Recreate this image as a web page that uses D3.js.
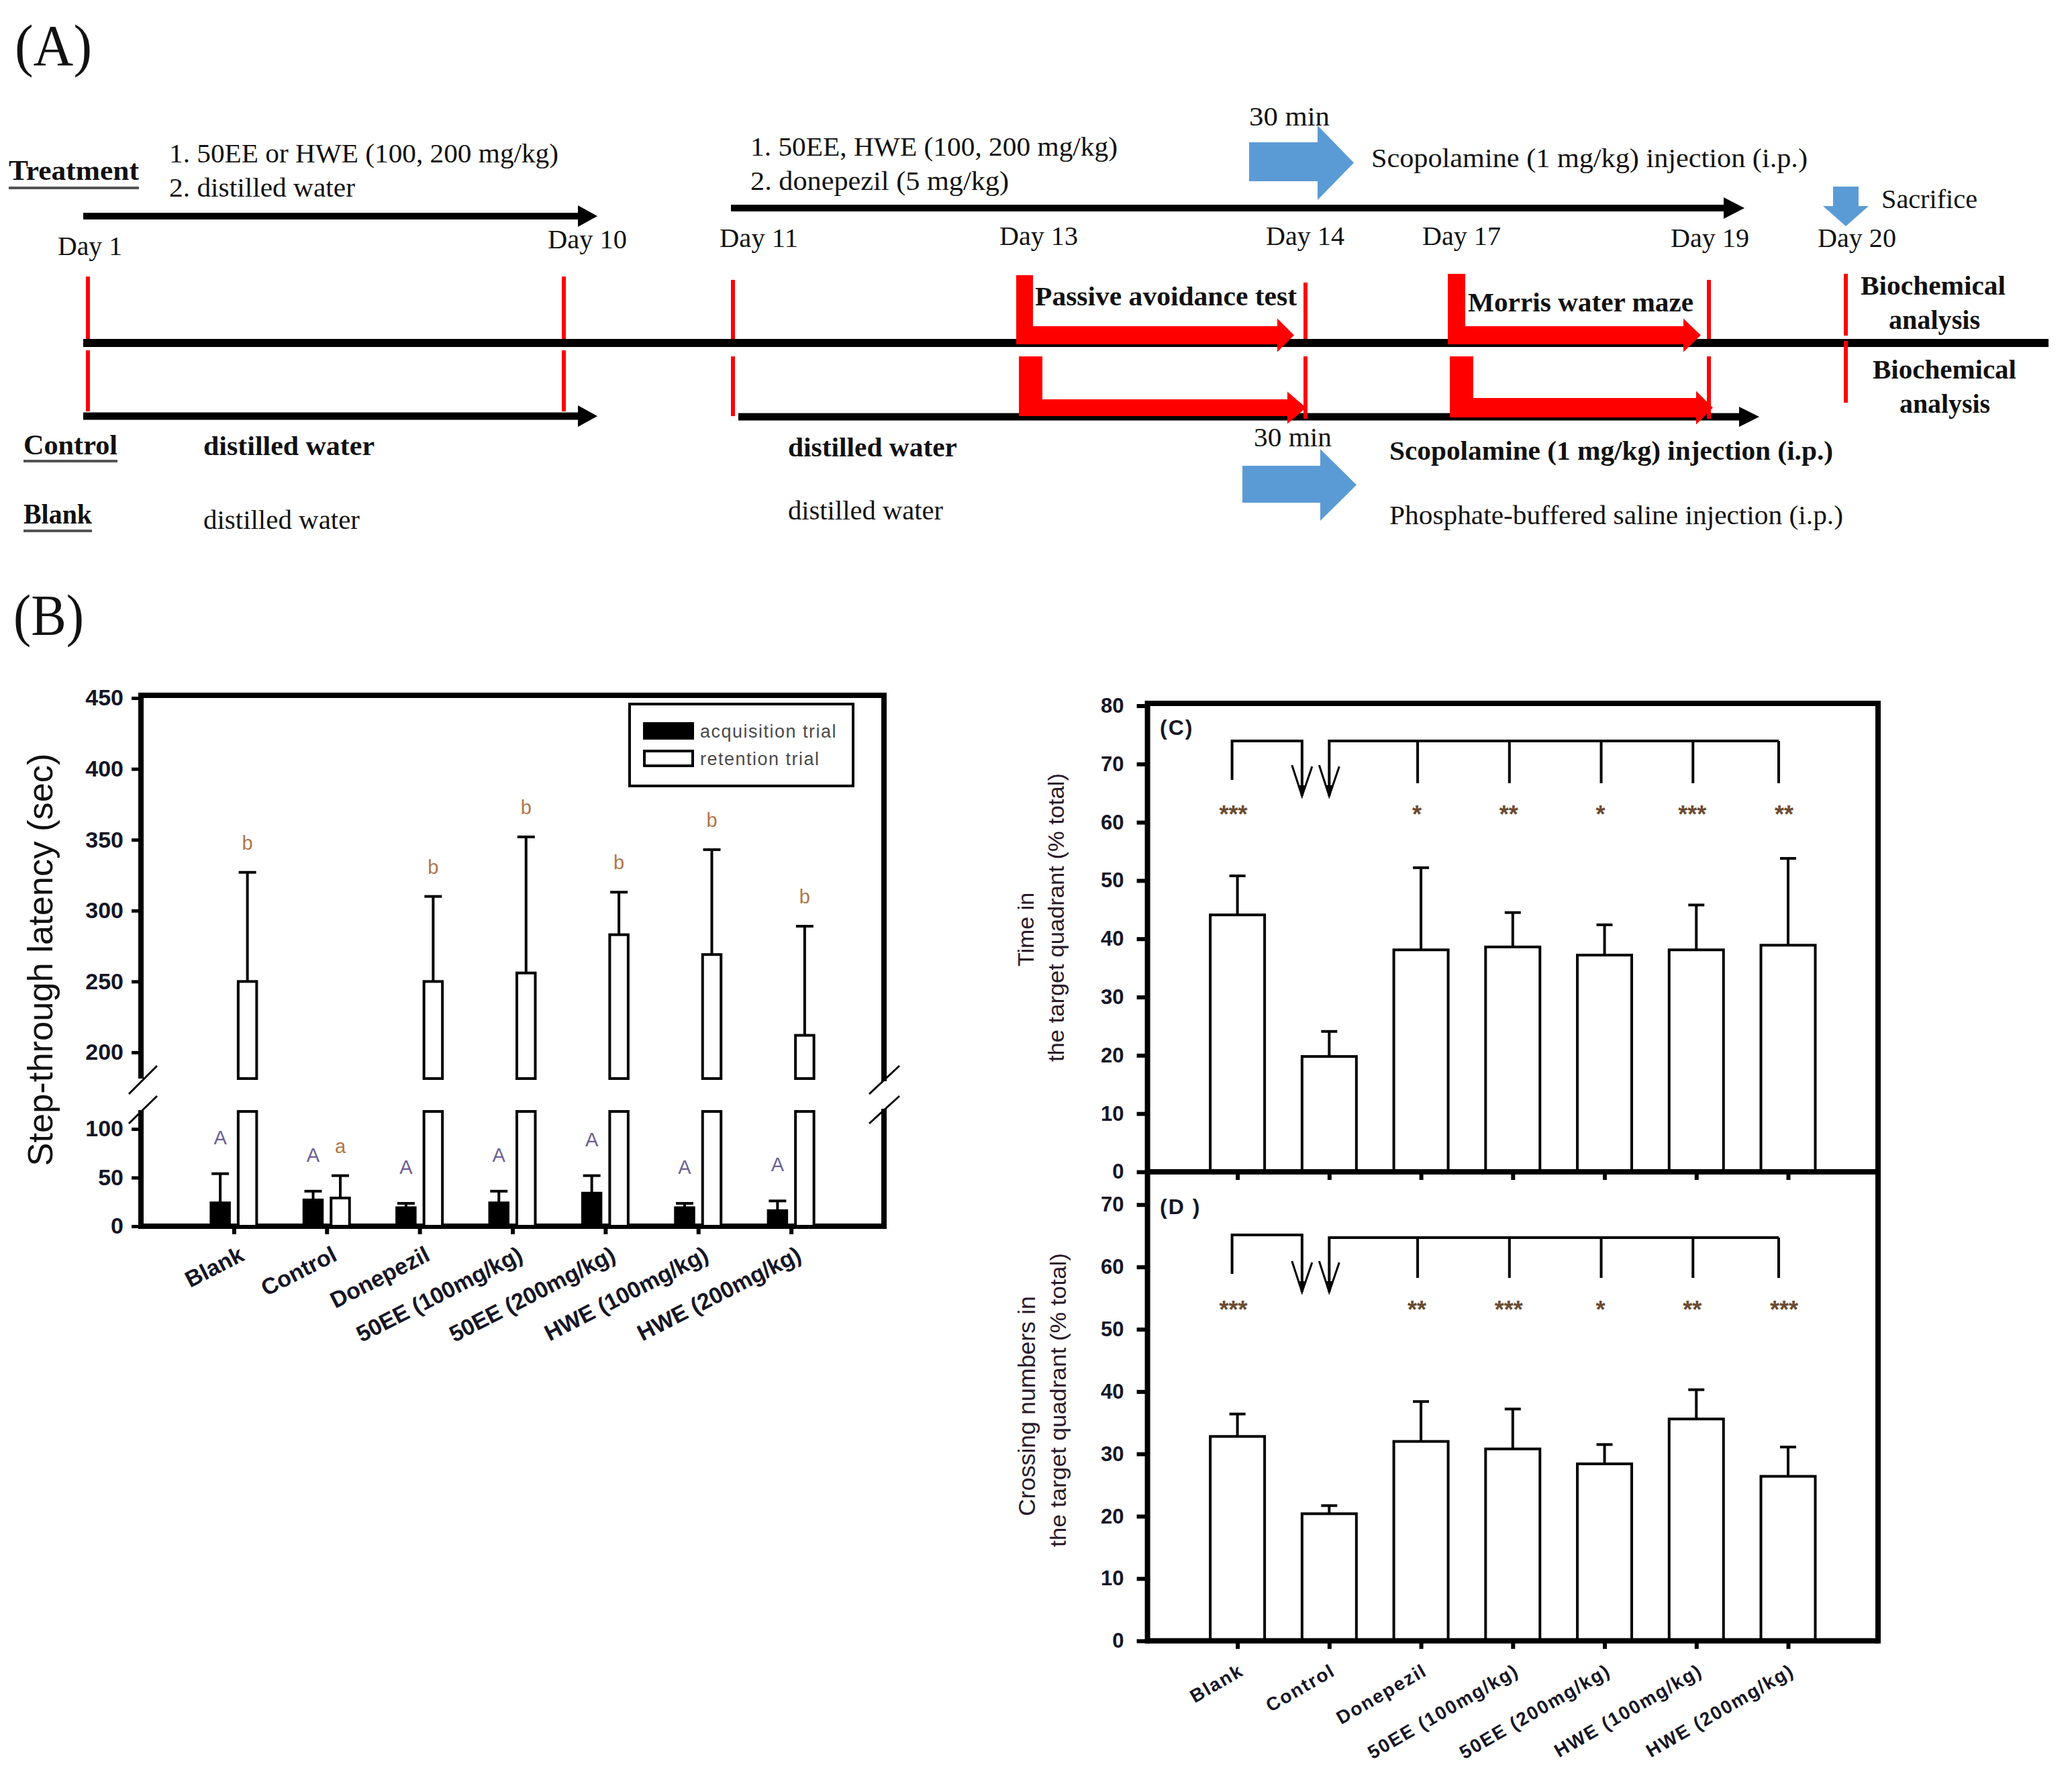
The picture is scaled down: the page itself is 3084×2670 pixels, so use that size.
<!DOCTYPE html>
<html><head><meta charset="utf-8">
<script src="https://cdn.jsdelivr.net/npm/d3@7"></script>
<style>html,body{margin:0;padding:0;background:#fff}</style>
</head><body>
<svg id="fig" width="3084" height="2670" xmlns="http://www.w3.org/2000/svg"></svg>
<script>
// ---------------- DATA ----------------
const groups = ["Blank","Control","Donepezil","50EE (100mg/kg)","50EE (200mg/kg)","HWE (100mg/kg)","HWE (200mg/kg)"];
// Panel B : step-through latency (sec)
const acqMean = [24, 27, 19, 24, 34, 19, 16];
const acqSem  = [30,  9, 4.5, 12, 18, 4.5, 10];
const retMean = [250, 29, 250, 256, 283, 269, 212];
const retSem  = [77,  23,  60,  96,  30,  74,  77];
const acqLetters = ["A","A","A","A","A","A","A"];
const retLetters = ["b","a","b","b","b","b","b"];
const seriesB = ["acquisition trial","retention trial"];
const ticksBUpper = [200,250,300,350,400,450];
const ticksBLower = [0,50,100];
// Panel C : time in target quadrant (% total)
const timeMean = [44.1, 19.8, 38.1, 38.6, 37.2, 38.1, 38.9];
const timeSem  = [6.7, 4.3, 14.1, 5.9, 5.2, 7.7, 14.9];
const starsC   = ["***","","*","**","*","***","**"];
const ticksC   = [0,10,20,30,40,50,60,70,80];
// Panel D : crossing numbers in target quadrant (% total)
const crossMean = [32.8, 20.4, 32.0, 30.8, 28.4, 35.6, 26.4];
const crossSem  = [3.6, 1.3, 6.4, 6.4, 3.1, 4.7, 4.7];
const starsD    = ["***","","**","***","*","**","***"];
const ticksD    = [0,10,20,30,40,50,60,70];

// ---------------- STYLE ----------------
const SERIF = "'Liberation Serif','Times New Roman',serif";
const SANS  = "'Liberation Sans',Arial,sans-serif";
const INK = "#161626";
const RED = "#ff0000";
const BLUE = "#5b9bd5";

const svg = d3.select("#fig");
svg.append("rect").attr("width",3084).attr("height",2670).attr("fill","#fff");

function T(g, s, x, y, o = {}) {
  const t = g.append("text").attr("x", x).attr("y", y).text(s)
    .attr("font-family", o.family || SERIF)
    .attr("font-size", o.size || 41)
    .attr("font-weight", o.bold ? "bold" : "normal")
    .attr("fill", o.fill || "#111");
  if (o.w) t.attr("textLength", o.w).attr("lengthAdjust", "spacingAndGlyphs");
  if (o.anchor) t.attr("text-anchor", o.anchor);
  if (o.ls) t.attr("letter-spacing", o.ls);
  if (o.transform) t.attr("transform", o.transform);
  return t;
}

// =============== PANEL A (schematic) ===============
const gA = svg.append("g");
T(gA, "(A)", 22, 97, {size: 86, w: 115});

function hArrow(x1, x2, y, th, hl, hh) {
  gA.append("rect").attr("x", x1).attr("y", y - th/2).attr("width", x2 - hl - x1 + 2).attr("height", th).attr("fill", "#000");
  gA.append("path").attr("d", `M${x2-hl},${y-hh}L${x2},${y}L${x2-hl},${y+hh}Z`).attr("fill", "#000");
}
function redV(x, y1, y2) {
  gA.append("line").attr("x1", x).attr("x2", x).attr("y1", y1).attr("y2", y2)
    .attr("stroke", RED).attr("stroke-width", 6);
}
function redL(vx1, vx2, vy1, hy1, hy2, hx2, tip, hh) {
  const cy = (hy1 + hy2) / 2;
  gA.append("path").attr("fill", RED)
    .attr("d", `M${vx1},${vy1}L${vx2},${vy1}L${vx2},${hy1}L${hx2},${hy1}L${hx2},${cy-hh}L${tip},${cy}L${hx2},${cy+hh}L${hx2},${hy2}L${vx1},${hy2}Z`);
}
function blueRight(rx1, rx2, ry1, ry2, hy1, hy2, tip) {
  const cy = (hy1 + hy2) / 2;
  gA.append("path").attr("fill", BLUE)
    .attr("d", `M${rx1},${ry1}L${rx2},${ry1}L${rx2},${hy1}L${tip},${cy}L${rx2},${hy2}L${rx2},${ry2}L${rx1},${ry2}Z`);
}
function underline(x1, x2, y) {
  gA.append("line").attr("x1", x1).attr("x2", x2).attr("y1", y).attr("y2", y)
    .attr("stroke", "#555").attr("stroke-width", 4);
}

// left texts
T(gA, "Treatment", 13, 268, {bold: true, w: 194, size: 42}); underline(13, 207, 280);
T(gA, "1. 50EE  or HWE  (100, 200 mg/kg)", 252, 242, {w: 580});
T(gA, "2. distilled water", 252, 293, {w: 277});
T(gA, "Day 1", 86, 380, {w: 96});
T(gA, "Day 10", 816, 370, {w: 118});
T(gA, "Control", 35, 677, {bold: true, w: 140, size: 42}); underline(35, 175, 687);
T(gA, "distilled  water", 303, 678, {bold: true, w: 255});
T(gA, "Blank", 35, 780, {bold: true, w: 102, size: 42}); underline(35, 137, 791);
T(gA, "distilled water", 303, 788, {w: 233});

// middle / right texts
T(gA, "1. 50EE, HWE  (100, 200 mg/kg)", 1118, 232, {w: 547});
T(gA, "2. donepezil  (5 mg/kg)", 1118, 283, {w: 385});
T(gA, "30 min", 1861, 187, {w: 120});
T(gA, "Scopolamine (1 mg/kg)  injection (i.p.)", 2043, 249, {w: 650});
T(gA, "Sacrifice", 2803, 310, {w: 143});
[["Day 11",1072,368],["Day 13",1489,365],["Day 14",1886,365],["Day 17",2119,365],["Day 19",2489,368],["Day 20",2708,368]]
  .forEach(d => T(gA, d[0], d[1], d[2], {w: 117}));
T(gA, "Passive avoidance test", 1542, 455, {bold: true, w: 390});
T(gA, "Morris water maze", 2187, 464, {bold: true, w: 336});
T(gA, "Biochemical", 2772, 439, {bold: true, w: 216});
T(gA, "analysis", 2814, 490, {bold: true, w: 136});
T(gA, "Biochemical", 2790, 564, {bold: true, w: 214});
T(gA, "analysis", 2830, 615, {bold: true, w: 135});
T(gA, "30 min", 1868, 665, {w: 116});
T(gA, "distilled  water", 1174, 680, {bold: true, w: 252});
T(gA, "distilled water", 1174, 774, {w: 231});
T(gA, "Scopolamine (1 mg/kg) injection (i.p.)", 2070, 685, {bold: true, w: 661});
T(gA, "Phosphate-buffered saline injection (i.p.)", 2070, 781, {w: 676});

// black lines and arrows
hArrow(124, 890, 322, 10, 29, 16);
hArrow(1089, 2599, 310, 10, 31, 16);
gA.append("rect").attr("x", 124).attr("y", 505).attr("width", 3052 - 124).attr("height", 12).attr("fill", "#000");
hArrow(124, 890, 620, 11, 29, 16);
hArrow(1100, 2621, 621, 11, 30, 15);

// red day markers
[[131,412,505,522,613],[840,412,505,522,613],[1092,417,505,531,620],[1945,421,505,531,624],[2546,417,505,531,624],[2750,408,500,508,600]]
  .forEach(d => { redV(d[0], d[1], d[2]); redV(d[0], d[3], d[4]); });

// red L-arrows (tests)
redL(1514, 1539, 410, 486, 513, 1903, 1928, 25);
redL(1518, 1553, 531, 595, 620, 1918, 1946, 24);
redL(2157, 2183, 408, 486, 513, 2508, 2534, 25);
redL(2160, 2195, 531, 593, 622, 2527, 2552, 25);

// blue arrows
blueRight(1861, 1963, 212, 270, 187, 298, 2017);
blueRight(1851, 1967, 694, 749, 669, 776, 2021);
gA.append("path").attr("fill", BLUE)
  .attr("d", "M2731,278L2769,278L2769,307L2784,307L2750,337L2716,307L2731,307Z");

// =============== PANEL B ===============
const gB = svg.append("g");
T(gB, "(B)", 20, 946, {size: 86, w: 105});

const BX0 = 210, BX1 = 1317;
const BREAK_LO = 118, BREAK_HI = 181.5;
const xB = d3.scalePoint().domain(groups).range([BX0, BX1]).padding(1);
const yLow = d3.scaleLinear().domain([0, BREAK_LO]).range([1827, 1656]);
const yHigh = d3.scaleLinear().domain([BREAK_HI, 450]).range([1607, 1040]);
const barW = 27.5, gap = 6.5;

function styleAxis(g, fs, tw, bold = true) {
  g.select(".domain").remove();
  g.selectAll(".tick line").attr("stroke", "#000").attr("stroke-width", tw);
  g.selectAll(".tick text").attr("font-family", SANS).attr("font-size", fs)
    .attr("font-weight", bold ? "bold" : "normal").attr("fill", INK);
}

// y axes (broken)
gB.append("g").attr("transform", `translate(${BX0},0)`)
  .call(d3.axisLeft(yHigh).tickValues(ticksBUpper).tickSize(14).tickPadding(12))
  .call(g => styleAxis(g, 34, 5));
gB.append("g").attr("transform", `translate(${BX0},0)`)
  .call(d3.axisLeft(yLow).tickValues(ticksBLower).tickSize(14).tickPadding(12))
  .call(g => styleAxis(g, 34, 5));

// x axis ticks + labels
gB.append("g").attr("transform", `translate(0,${yLow(0)})`)
  .call(d3.axisBottom(xB).tickSize(12).tickPadding(0))
  .call(g => {
    styleAxis(g, 34, 6);
    g.selectAll(".tick text").attr("x", 0).attr("y", 0).attr("dy", null)
      .attr("text-anchor", "end").attr("transform", "translate(17,50) rotate(-27)");
  });

// frame lines
const frameB = gB.append("g").attr("stroke", "#000").attr("stroke-width", 8).attr("fill", "none");
frameB.append("path").attr("d", `M${BX0},${yLow(0)}L${BX1},${yLow(0)}`);
frameB.append("path").attr("d", `M${BX0},${yLow(BREAK_LO)-2}L${BX0},${yLow(0)+4}`);
frameB.append("path").attr("d", `M${BX0},${yHigh(BREAK_HI)}L${BX0},${yHigh(450)-4}L${BX1},${yHigh(450)-4}L${BX1},${yHigh(BREAK_HI)+4}`);
frameB.append("path").attr("d", `M${BX1},${yLow(BREAK_LO)-4}L${BX1},${yLow(0)+4}`);
// break marks
const brk = gB.append("g").attr("stroke", "#000").attr("stroke-width", 3);
[[BX0 - 18, BX0 + 24], [BX1 - 22, BX1 + 23]].forEach(([a, b]) => {
  brk.append("line").attr("x1", a).attr("y1", 1630).attr("x2", b).attr("y2", 1588);
  brk.append("line").attr("x1", a).attr("y1", 1674).attr("x2", b).attr("y2", 1633);
});

// bars
function drawBarB(g, cx, v, sem, fill) {
  const st = {stroke: "#000", "stroke-width": 4};
  const addRect = (y0, y1) => g.append("rect").attr("x", cx - barW/2).attr("width", barW)
      .attr("y", y0).attr("height", y1 - y0).attr("fill", fill).attr("stroke", "#000").attr("stroke-width", 4);
  let topPx, errPx;
  if (v <= BREAK_LO) {
    addRect(yLow(v), yLow(0));
    topPx = yLow(v); errPx = yLow(v + sem);
  } else {
    addRect(yLow(BREAK_LO), yLow(0));
    addRect(yHigh(v), yHigh(BREAK_HI));
    topPx = yHigh(v); errPx = yHigh(v + sem);
  }
  g.append("line").attr("x1", cx).attr("x2", cx).attr("y1", topPx).attr("y2", errPx).attr("stroke", "#000").attr("stroke-width", 4);
  g.append("line").attr("x1", cx - 13).attr("x2", cx + 13).attr("y1", errPx).attr("y2", errPx).attr("stroke", "#000").attr("stroke-width", 4);
  return errPx;
}
const barsB = gB.append("g");
groups.forEach((grp, i) => {
  const c = xB(grp);
  const cxA = c - gap - barW/2, cxR = c + gap + barW/2;
  const eA = drawBarB(barsB, cxA, acqMean[i], acqSem[i], "#000");
  const eR = drawBarB(barsB, cxR, retMean[i], retSem[i], "#fff");
  T(barsB, acqLetters[i], cxA, eA - 44, {family: SANS, size: 29, fill: "#6a5e96", anchor: "middle"});
  T(barsB, retLetters[i], cxR, eR - 34, {family: SANS, size: 29, fill: "#b27448", anchor: "middle"});
});

// y title
T(gB, "Step-through latency (sec)", 0, 0, {family: SANS, size: 52, fill: "#111", anchor: "middle", w: 615,
  transform: "translate(78,1430) rotate(-90)"});

// legend
const lg = gB.append("g");
lg.append("rect").attr("x", 938).attr("y", 1049).attr("width", 333).attr("height", 122)
  .attr("fill", "#fff").attr("stroke", "#000").attr("stroke-width", 4);
seriesB.forEach((s, i) => {
  const y = 1078 + i * 41;
  lg.append("rect").attr("x", 960).attr("y", y).attr("width", 72).attr("height", 22)
    .attr("fill", i === 0 ? "#000" : "#fff").attr("stroke", "#000").attr("stroke-width", 4);
  T(lg, s, 1043, y + 21, {family: SANS, size: 27, fill: "#4a4a4a", ls: 1.5});
});

// =============== PANELS C & D ===============
const gC = svg.append("g");
const CX0 = 1709.6, CX1 = 2798;
const xCD = d3.scalePoint().domain(groups).range([CX0, CX1]).padding(0.98);
const yC = d3.scaleLinear().domain([0, 80]).range([1746, 1051.5]);
const yD = d3.scaleLinear().domain([0, 70]).range([2444.8, 1794.8]);
const barWC = 81;

function panel(g, y, ticks, means, sems, stars, lab, labY, br) {
  g.append("g").attr("transform", `translate(${CX0},0)`)
    .call(d3.axisLeft(y).tickValues(ticks).tickSize(16).tickPadding(19))
    .call(a => styleAxis(a, 31, 6));
  g.append("g").attr("transform", `translate(0,${y(0)})`)
    .call(d3.axisBottom(xCD).tickSize(12).tickPadding(0))
    .call(a => { styleAxis(a, 29, 6); a.selectAll(".tick text").remove(); });
  // bars
  groups.forEach((grp, i) => {
    const cx = xCD(grp);
    g.append("rect").attr("x", cx - barWC/2).attr("width", barWC)
      .attr("y", y(means[i])).attr("height", y(0) - y(means[i]))
      .attr("fill", "#fff").attr("stroke", "#000").attr("stroke-width", 4);
    const e = y(means[i] + sems[i]);
    g.append("line").attr("x1", cx).attr("x2", cx).attr("y1", y(means[i])).attr("y2", e).attr("stroke", "#000").attr("stroke-width", 4);
    g.append("line").attr("x1", cx - 12).attr("x2", cx + 12).attr("y1", e).attr("y2", e).attr("stroke", "#000").attr("stroke-width", 4);
    if (stars[i]) T(g, stars[i], cx - 6, br.starY + 20, {family: SANS, size: 36, bold: true, fill: "#6a4a30", anchor: "middle"});
  });
  T(g, lab, 1728, labY, {family: SANS, size: 32, bold: true, fill: INK, ls: 2});
  // significance brackets
  const bg = g.append("g").attr("stroke", "#000").attr("stroke-width", 4).attr("fill", "none");
  const xb = xCD(groups[0]) - 8, xc1 = xCD(groups[1]) - barWC/2, xc2 = xCD(groups[1]);
  const xl = xCD(groups[groups.length - 1]) - 14;
  bg.append("path").attr("d", `M${xb},${br.blankDrop}L${xb},${br.hL}L${xc1},${br.hL}L${xc1},${br.tip}`);
  bg.append("path").attr("d", `M${xc2},${br.tip}L${xc2},${br.hR}L${xl},${br.hR}`);
  groups.slice(2).forEach((grp, k) => {
    const xx = (k === groups.length - 3) ? xl : xCD(grp) - 5;
    bg.append("path").attr("d", `M${xx},${br.hR}L${xx},${br.drop}`);
  });
  [xc1, xc2].forEach(xx => {
    bg.append("path").attr("stroke-width", 3).attr("d", `M${xx-15},${br.tip-46}L${xx},${br.tip}L${xx+15},${br.tip-44}`);
    g.append("path").attr("fill", "#000").attr("d", `M${xx-5},${br.tip-16}L${xx+5},${br.tip-16}L${xx},${br.tip}Z`);
  });
}
panel(gC, yC, ticksC, timeMean, timeSem, starsC, "(C)", 1095,
  {hL: 1104, hR: 1104, blankDrop: 1162, tip: 1186, drop: 1167, starY: 1206});
panel(gC, yD, ticksD, crossMean, crossSem, starsD, "(D )", 1809,
  {hL: 1840, hR: 1844, blankDrop: 1898, tip: 1925, drop: 1904, starY: 1944});

// frame C/D
const fr = gC.append("g").attr("stroke", "#000").attr("stroke-width", 8).attr("fill", "none");
fr.append("path").attr("d", `M${CX0},${yD(0)+4}L${CX0},1048L${CX1},1048L${CX1},${yD(0)+4}`);
fr.append("path").attr("d", `M${CX0},1746L${CX1},1746`);
fr.append("path").attr("d", `M${CX0},${yD(0)}L${CX1},${yD(0)}`);

// x labels under D
gC.append("g").selectAll("text").data(groups).join("text")
  .attr("transform", d => `translate(${xCD(d) + 11},${yD(0) + 50}) rotate(-30)`)
  .attr("text-anchor", "end").attr("font-family", SANS).attr("font-size", 28)
  .attr("font-weight", "bold").attr("letter-spacing", 2).attr("fill", INK).text(d => d);

// y titles
T(gC, "Time in", 0, 0, {family: SANS, size: 34, fill: "#2a1a2a", anchor: "middle", transform: "translate(1540,1385) rotate(-90)"});
T(gC, "the target quadrant (% total)", 0, 0, {family: SANS, size: 33, fill: "#2a1a2a", anchor: "middle", w: 430, transform: "translate(1585,1367) rotate(-90)"});
T(gC, "Crossing numbers in", 0, 0, {family: SANS, size: 35, fill: "#2a1a2a", anchor: "middle", w: 328, transform: "translate(1542,2095) rotate(-90)"});
T(gC, "the target quadrant (% total)", 0, 0, {family: SANS, size: 34, fill: "#2a1a2a", anchor: "middle", w: 438, transform: "translate(1588,2086) rotate(-90)"});
</script>
</body></html>
